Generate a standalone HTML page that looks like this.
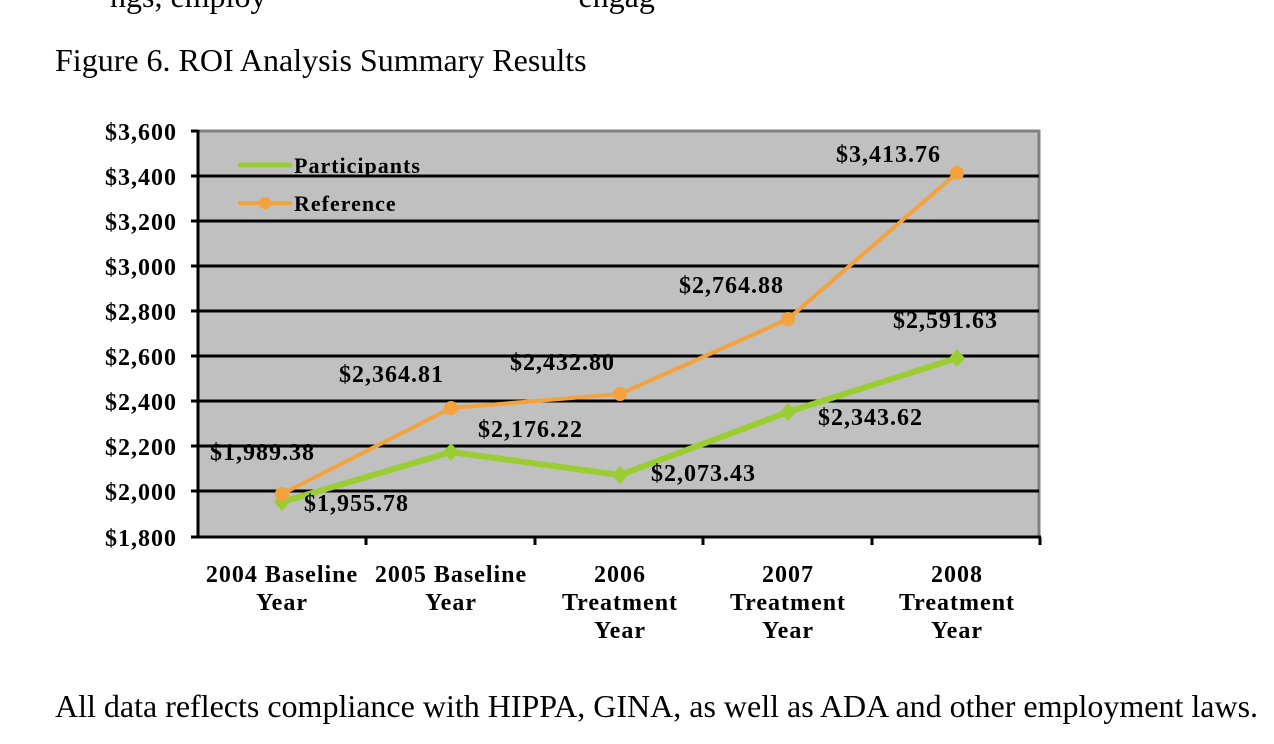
<!DOCTYPE html>
<html><head><style>
body{margin:0;background:#fff;width:1274px;height:744px;overflow:hidden;position:relative;font-family:"Liberation Serif",serif}
.t{position:absolute;font-size:32px;color:#000;white-space:pre}
</style></head><body>
<div class="t" style="left:110px;top:-22px">ngs, employ                                       engag</div>
<div class="t" style="left:55px;top:42px">Figure 6. ROI Analysis Summary Results</div>
<div class="t" style="left:55px;top:688px">All data reflects compliance with HIPPA, GINA, as well as ADA and other employment laws.</div>
<svg width="1274" height="744" style="position:absolute;left:0;top:0" font-family="Liberation Serif, serif" font-weight="bold" font-size="24" letter-spacing="1">
<rect x="198" y="131" width="841" height="406" fill="#c0c0c0" stroke="#808080" stroke-width="3"/>
<g stroke="#000" stroke-width="3">
<line x1="198" y1="176" x2="1039" y2="176"/><line x1="198" y1="221" x2="1039" y2="221"/>
<line x1="198" y1="266" x2="1039" y2="266"/><line x1="198" y1="311" x2="1039" y2="311"/>
<line x1="198" y1="356" x2="1039" y2="356"/><line x1="198" y1="401" x2="1039" y2="401"/>
<line x1="198" y1="446" x2="1039" y2="446"/><line x1="198" y1="491" x2="1039" y2="491"/>
<line x1="198" y1="537" x2="1041" y2="537"/><line x1="198" y1="130" x2="198" y2="538"/>
<line x1="191" y1="131" x2="198" y2="131"/><line x1="191" y1="176" x2="198" y2="176"/><line x1="191" y1="221" x2="198" y2="221"/><line x1="191" y1="266" x2="198" y2="266"/><line x1="191" y1="311" x2="198" y2="311"/><line x1="191" y1="356" x2="198" y2="356"/><line x1="191" y1="401" x2="198" y2="401"/><line x1="191" y1="446" x2="198" y2="446"/><line x1="191" y1="491" x2="198" y2="491"/><line x1="191" y1="537" x2="198" y2="537"/>
<line x1="366" y1="537" x2="366" y2="545"/><line x1="535" y1="537" x2="535" y2="545"/><line x1="703" y1="537" x2="703" y2="545"/><line x1="872" y1="537" x2="872" y2="545"/><line x1="1040" y1="537" x2="1040" y2="545"/>
</g>
<g text-anchor="end">
<text x="177" y="140">$3,600</text><text x="177" y="185">$3,400</text><text x="177" y="230">$3,200</text><text x="177" y="275">$3,000</text><text x="177" y="320">$2,800</text><text x="177" y="365">$2,600</text><text x="177" y="410">$2,400</text><text x="177" y="455">$2,200</text><text x="177" y="500">$2,000</text><text x="177" y="546">$1,800</text>
</g>
<g text-anchor="middle">
<text x="282" y="582">2004 Baseline</text><text x="282" y="610">Year</text>
<text x="451" y="582">2005 Baseline</text><text x="451" y="610">Year</text>
<text x="620" y="582">2006</text><text x="620" y="610">Treatment</text><text x="620" y="638">Year</text>
<text x="788" y="582">2007</text><text x="788" y="610">Treatment</text><text x="788" y="638">Year</text>
<text x="957" y="582">2008</text><text x="957" y="610">Treatment</text><text x="957" y="638">Year</text>
</g>
<polyline points="282,502 451,452 620,475 788,412 957,358" fill="none" stroke="#9acd32" stroke-width="6" stroke-linejoin="round"/>
<g fill="#9acd32">
<path d="M282,493 l8,9 -8,9 -8,-9z"/><path d="M451,443 l8,9 -8,9 -8,-9z"/><path d="M620,466 l8,9 -8,9 -8,-9z"/><path d="M788,403 l8,9 -8,9 -8,-9z"/><path d="M957,349 l8,9 -8,9 -8,-9z"/>
</g>
<polyline points="282,494 451,408 620,394 788,319 957,173" fill="none" stroke="#f4a23c" stroke-width="4" stroke-linejoin="round"/>
<g fill="#f4a23c">
<circle cx="282" cy="494" r="7"/><circle cx="451" cy="408" r="7"/><circle cx="620" cy="394" r="7"/><circle cx="788" cy="319" r="7"/><circle cx="957" cy="173" r="7"/>
</g>
<line x1="240" y1="165" x2="290" y2="165" stroke="#9acd32" stroke-width="5" stroke-linecap="round"/>
<line x1="240" y1="203" x2="290" y2="203" stroke="#f4a23c" stroke-width="4" stroke-linecap="round"/>
<circle cx="265" cy="203" r="6" fill="#f4a23c"/>
<g font-size="22"><text x="294" y="173">Participants</text><text x="294" y="211">Reference</text></g>
<text x="210" y="460">$1,989.38</text>
<text x="304" y="511">$1,955.78</text>
<text x="339" y="382">$2,364.81</text>
<text x="478" y="437">$2,176.22</text>
<text x="510" y="370">$2,432.80</text>
<text x="651" y="481">$2,073.43</text>
<text x="679" y="293">$2,764.88</text>
<text x="818" y="425">$2,343.62</text>
<text x="836" y="162">$3,413.76</text>
<text x="893" y="328">$2,591.63</text>
</svg>
</body></html>
